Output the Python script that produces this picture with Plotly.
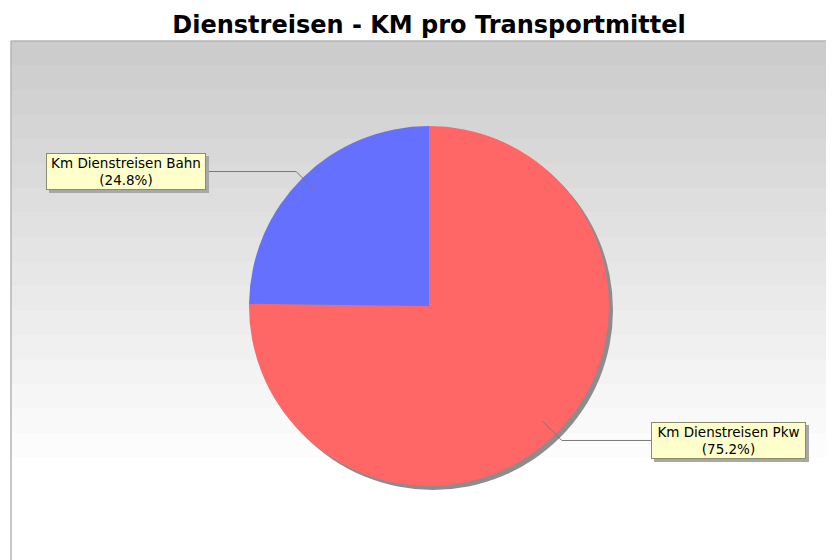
import math
import plotly.graph_objects as go

# ---- data ----
labels = ["Km Dienstreisen Pkw", "Km Dienstreisen Bahn"]
values = [75.2, 24.8]
colors = ["#FF6666", "#6670FF"]
title = "Dienstreisen - KM pro Transportmittel"

W, H = 834, 560
OFF = 8  # page body margin
def px(x):
    return (x - OFF) / W
def py(y):
    return 1 - (y - OFF) / H

# pie geometry (pixels, window coords)
cx, cy, R = 429, 306, 180

fig = go.Figure()
fig.add_trace(go.Pie(
    labels=labels, values=values, sort=False, direction="clockwise", rotation=0,
    marker=dict(colors=colors, line=dict(width=0)),
    textinfo="none", hoverinfo="label+percent", showlegend=False,
    domain=dict(x=[px(cx - R), px(cx + R)], y=[py(cy + R), py(cy - R)]),
))

shapes = []
# plot background gradient (banded)
top, bottom = 41, 482
nb = 18
bh = (bottom - top) / nb
for i in range(nb):
    v = int(round(204 + (255 - 204) * i / (nb - 1)))
    shapes.append(dict(type="rect", xref="paper", yref="paper", layer="below",
                       x0=px(11), x1=1, y0=py(top + (i + 1) * bh + 0.5), y1=py(top + i * bh),
                       fillcolor=f"rgb({v},{v},{v})", line=dict(width=0)))
# plot border (top and left)
shapes.append(dict(type="line", xref="paper", yref="paper", layer="below",
                   x0=px(11), x1=1, y0=py(41), y1=py(41), line=dict(color="#B4B4B4", width=1.5)))
shapes.append(dict(type="line", xref="paper", yref="paper", layer="below",
                   x0=px(11), x1=px(11), y0=0, y1=py(41), line=dict(color="#B4B4B4", width=1.5)))
# pie shadow
sh = 4
shapes.append(dict(type="circle", xref="paper", yref="paper", layer="below",
                   x0=px(cx - R + sh), x1=px(cx + R + sh), y0=py(cy + R + sh), y1=py(cy - R + sh),
                   fillcolor="#8C8C8C", line=dict(width=0)))

# labels with leader lines
total = sum(values)
boxes = {"Km Dienstreisen Pkw": (651, "left", 155), "Km Dienstreisen Bahn": (206, "right", 160)}
BOX_H = 37
annotations = []
start = 0.0
for lab, val in zip(labels, values):
    frac = val / total
    mid = (start + frac / 2) * 2 * math.pi  # clockwise from 12 o'clock
    start += frac
    dx, dy = math.sin(mid), -math.cos(mid)
    x1, y1 = cx + 0.9 * R * dx, cy + 0.9 * R * dy
    x2, y2 = cx + 1.05 * R * dx, cy + 1.05 * R * dy
    bx, anchor, bw = boxes[lab]
    shapes.append(dict(type="path", xref="paper", yref="paper",
                       path=f"M {px(x1)},{py(y1)} L {px(x2)},{py(y2)} L {px(bx)},{py(y2)}",
                       line=dict(color="#787878", width=1)))
    # box shadow
    left = bx - bw if anchor == "right" else bx
    shapes.append(dict(type="rect", xref="paper", yref="paper",
                       x0=px(left + 3), x1=px(left + bw + 3),
                       y0=py(y2 + BOX_H / 2 + 3), y1=py(y2 - BOX_H / 2 + 3),
                       fillcolor="#A8A8A8", line=dict(width=0)))
    text = f"{lab}<br>({frac*100:.1f}%)"
    annotations.append(dict(
        x=px(bx), y=py(y2), xref="paper", yref="paper", xanchor=anchor, yanchor="middle",
        text=text, showarrow=False, align="center",
        font=dict(family="DejaVu Sans", size=13.5, color="#000000"),
        bgcolor="#FFFFCC", bordercolor="#8C8C6A", borderwidth=1, borderpad=2,
        width=bw - 6, height=BOX_H - 6,
    ))

fig.update_layout(
    width=W, height=H, margin=dict(l=0, r=0, t=0, b=0),
    paper_bgcolor="white", plot_bgcolor="white",
    title=dict(text=f"<b>{title}</b>", x=px(429), xanchor="center", xref="paper",
               y=py(25), yanchor="middle", yref="container",
               font=dict(family="DejaVu Sans", size=24, color="#000000")),
    shapes=shapes, annotations=annotations,
)
fig.write_html("out.html")
